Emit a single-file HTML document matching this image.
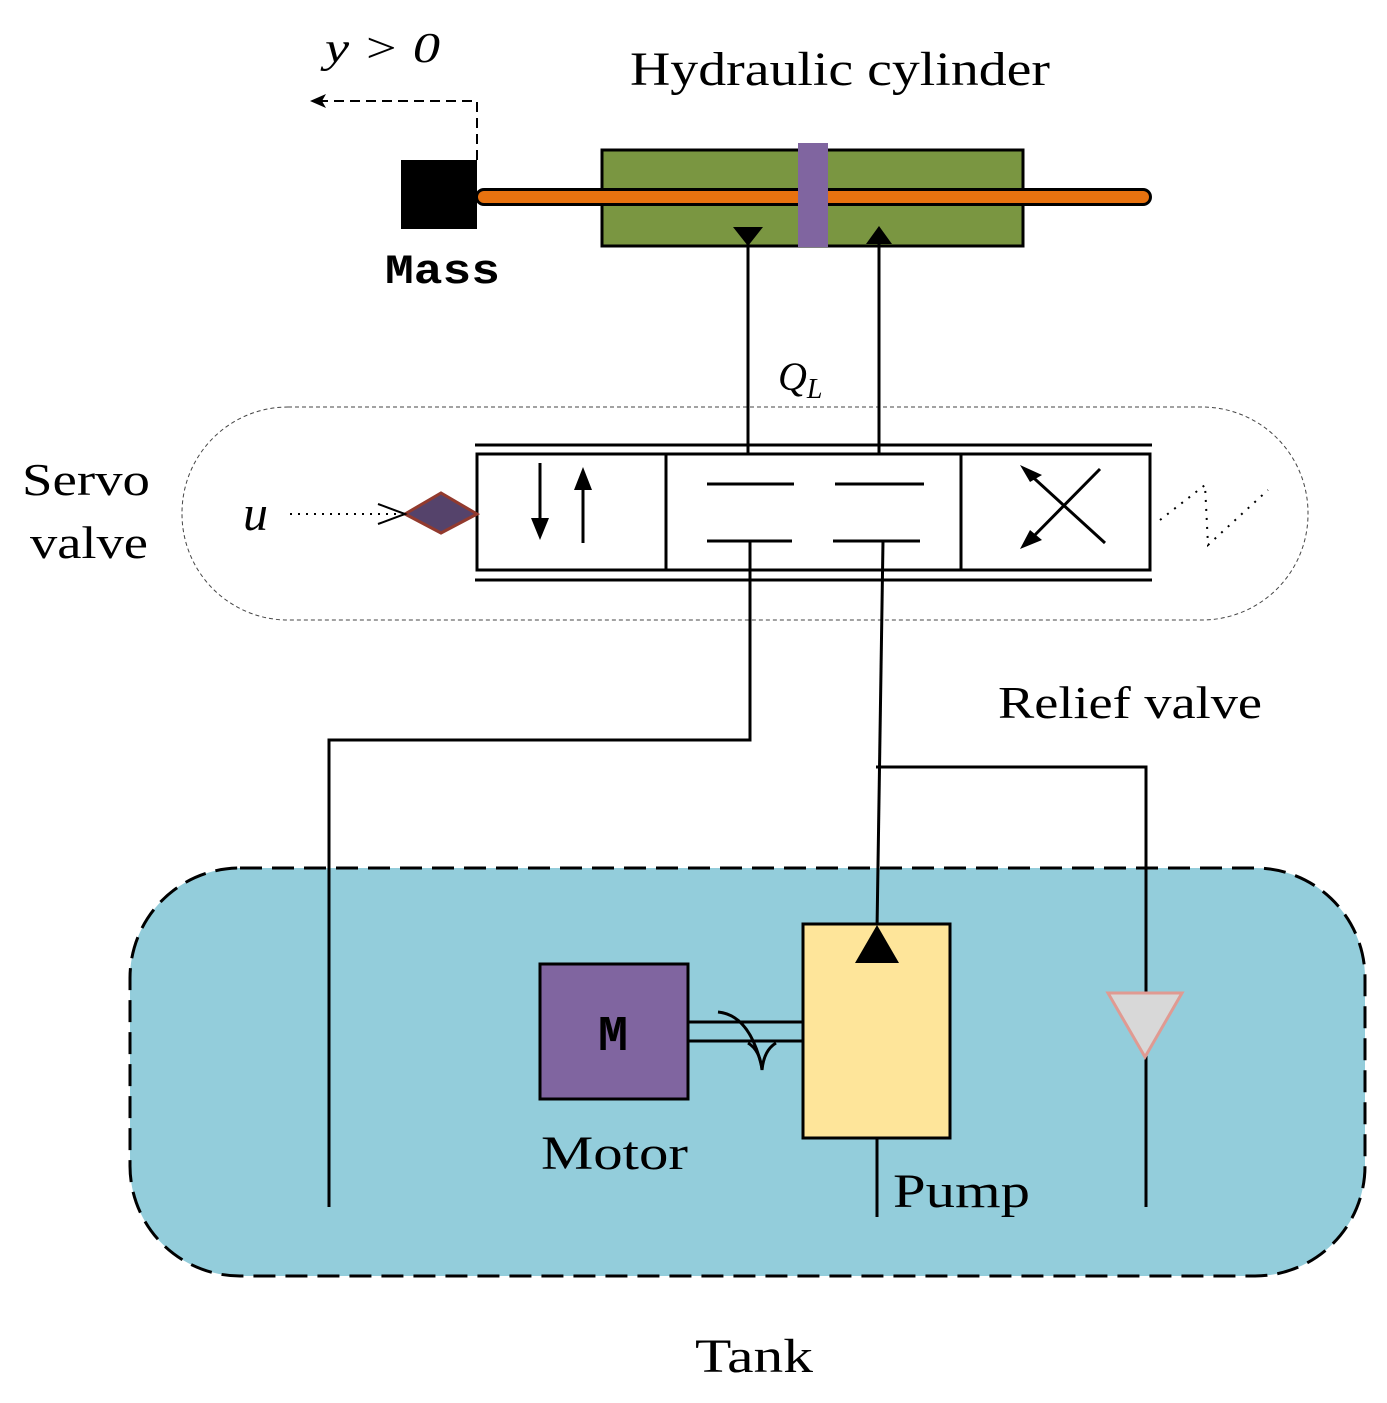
<!DOCTYPE html>
<html><head><style>
body{margin:0;background:#fff;}
svg{display:block;}
text{font-family:"Liberation Serif",serif;}
</style></head><body>
<svg width="1387" height="1403" viewBox="0 0 1387 1403" xmlns="http://www.w3.org/2000/svg">
<rect x="130" y="868" width="1235" height="408" rx="110" fill="#93cddb" stroke="#000" stroke-width="3" stroke-dasharray="22,10"/>
<rect x="182" y="407" width="1126" height="213" rx="106" fill="none" stroke="#444" stroke-width="1" stroke-dasharray="4,3"/>
<rect x="602" y="150" width="421" height="96" fill="#7a9641" stroke="#000" stroke-width="3"/>
<line x1="484" y1="197" x2="1143" y2="197" stroke="#000" stroke-width="18" stroke-linecap="round"/>
<line x1="484" y1="197" x2="1143" y2="197" stroke="#e8720f" stroke-width="12" stroke-linecap="round"/>
<rect x="798" y="143" width="30" height="104" fill="#8065a0"/>
<rect x="401" y="160" width="76" height="69" fill="#000"/>
<polyline points="477,160 477,101 320,101" fill="none" stroke="#000" stroke-width="2" stroke-dasharray="10,6"/>
<polygon points="310,101 326,94 322,101 326,108" fill="#000"/>
<text x="325" y="62" font-size="42" font-style="italic" textLength="115" lengthAdjust="spacingAndGlyphs">y &gt; 0</text>
<text x="630" y="85" font-size="48" textLength="420" lengthAdjust="spacingAndGlyphs">Hydraulic cylinder</text>
<text x="385" y="283" font-size="42" font-weight="bold" style="font-family:'Liberation Mono',monospace" textLength="115" lengthAdjust="spacingAndGlyphs">Mass</text>
<line x1="748" y1="232" x2="748" y2="484" stroke="#000" stroke-width="3"/>
<polygon points="733,227 763,227 748,246" fill="#000"/>
<line x1="879" y1="240" x2="879" y2="484" stroke="#000" stroke-width="3"/>
<polygon points="866,244 892,244 879,226" fill="#000"/>
<text x="778" y="390" font-size="40" font-style="italic">Q<tspan font-size="28" dy="8">L</tspan></text>
<g stroke="#000" stroke-width="3" fill="none">
<line x1="475" y1="445" x2="1152" y2="445"/>
<line x1="475" y1="580" x2="1152" y2="580"/>
<rect x="477" y="454" width="673" height="116" fill="#fff"/>
<line x1="666" y1="454" x2="666" y2="570"/>
<line x1="961" y1="454" x2="961" y2="570"/>
<line x1="540" y1="463" x2="540" y2="525"/>
<line x1="583" y1="485" x2="583" y2="543"/>
<line x1="707" y1="484" x2="794" y2="484"/>
<line x1="835" y1="484" x2="924" y2="484"/>
<line x1="707" y1="541" x2="792" y2="541"/>
<line x1="833" y1="541" x2="920" y2="541"/>
<line x1="1025" y1="470" x2="1105" y2="543"/>
<line x1="1100" y1="469" x2="1025" y2="545"/>
</g>
<polygon points="531,518 549,518 540,540" fill="#000"/>
<polygon points="574,490 592,490 583,467" fill="#000"/>
<polygon points="1020,465 1042,475 1030,482" fill="#000"/>
<polygon points="1020,549 1030,530 1042,540" fill="#000"/>
<polygon points="405,514 441,493 477,514 441,533" fill="#55436b" stroke="#923a2e" stroke-width="3"/>
<line x1="290" y1="514" x2="400" y2="514" stroke="#000" stroke-width="2" stroke-dasharray="2,6"/>
<polyline points="378,504 405,514 378,524" fill="none" stroke="#000" stroke-width="2"/>
<polyline points="1160,520 1205,485 1208,545 1268,490" fill="none" stroke="#000" stroke-width="2" stroke-dasharray="2,7"/>
<text x="243" y="530" font-size="50" font-style="italic">u</text>
<text x="22" y="495" font-size="46" textLength="128" lengthAdjust="spacingAndGlyphs">Servo</text>
<text x="30" y="558" font-size="46" textLength="118" lengthAdjust="spacingAndGlyphs">valve</text>
<g stroke="#000" stroke-width="3" fill="none">
<polyline points="750,541 750,740 329,740 329,1207"/>
<polyline points="883,541 877,930"/>
<polyline points="876,767 1146,767 1146,1207"/>
<line x1="877" y1="1138" x2="877" y2="1217"/>
</g>
<text x="998" y="718" font-size="46" textLength="264" lengthAdjust="spacingAndGlyphs">Relief valve</text>
<polygon points="1108,993 1182,993 1145,1057" fill="#d8d8d8" stroke="#e09a92" stroke-width="3"/>
<rect x="540" y="964" width="148" height="135" fill="#8065a0" stroke="#000" stroke-width="3"/>
<text x="598" y="1050" font-size="50" font-weight="bold" style="font-family:'Liberation Mono',monospace">M</text>
<line x1="688" y1="1022" x2="803" y2="1022" stroke="#000" stroke-width="3"/>
<line x1="688" y1="1041" x2="803" y2="1041" stroke="#000" stroke-width="3"/>
<path d="M718,1012 Q750,1015 762,1068" fill="none" stroke="#000" stroke-width="3"/>
<path d="M748,1043 Q760,1050 762,1070 Q764,1050 776,1043" fill="none" stroke="#000" stroke-width="3"/>
<rect x="803" y="924" width="147" height="214" fill="#fee59a" stroke="#000" stroke-width="3"/>
<polygon points="855,963 899,963 877,925" fill="#000"/>
<text x="541" y="1169" font-size="48" textLength="147" lengthAdjust="spacingAndGlyphs">Motor</text>
<text x="893" y="1207" font-size="48" textLength="137" lengthAdjust="spacingAndGlyphs">Pump</text>
<text x="695" y="1372" font-size="48" textLength="118" lengthAdjust="spacingAndGlyphs">Tank</text>
</svg>
</body></html>
